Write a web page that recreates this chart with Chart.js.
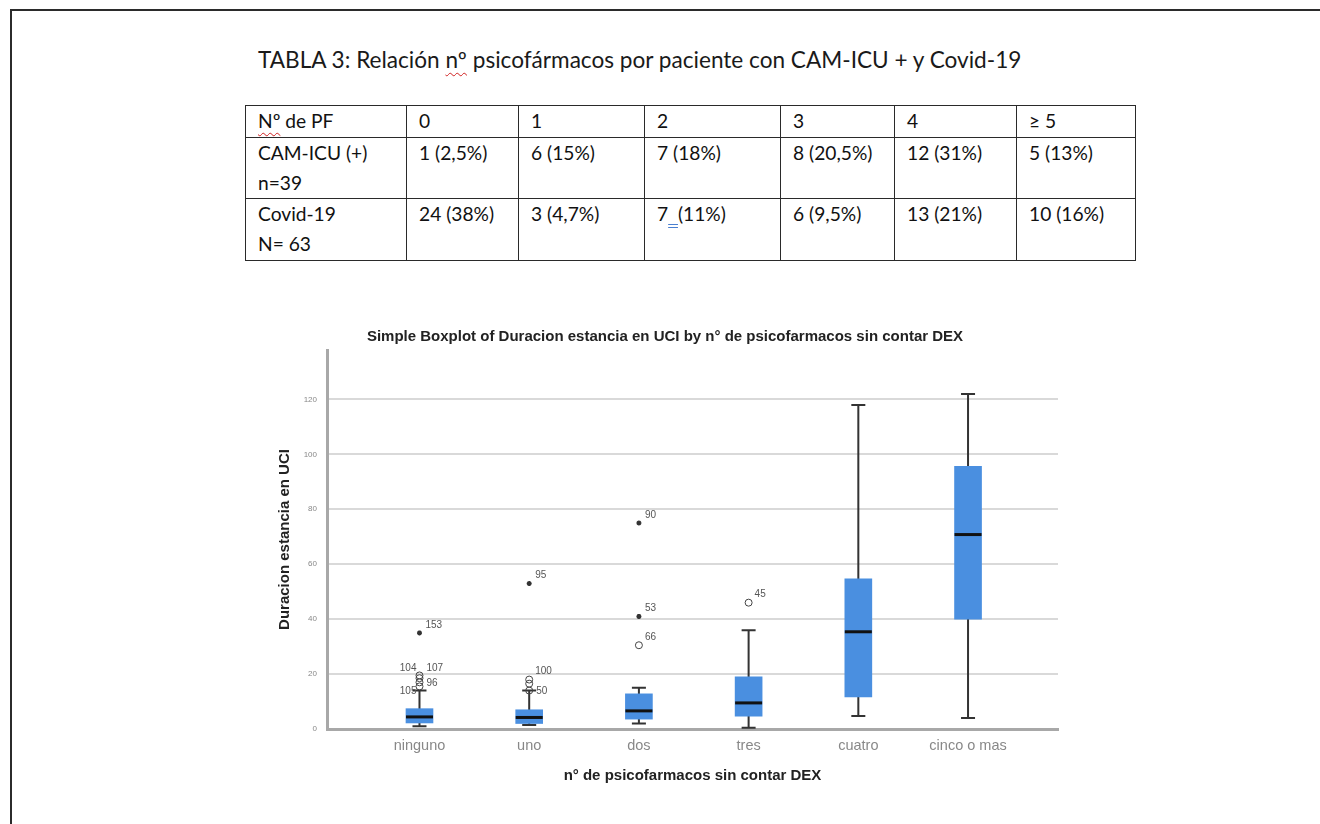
<!DOCTYPE html>
<html>
<head>
<meta charset="utf-8">
<script src="https://cdn.jsdelivr.net/npm/chart.js@4.4.0/dist/chart.umd.min.js"></script>
<style>
  html, body { margin: 0; padding: 0; background: #fff; width: 1320px; height: 824px; overflow: hidden; }
  #frame { position: absolute; left: 10px; top: 9px; width: 1330px; height: 840px;
           border-left: 2px solid #2b2b2b; border-top: 2px solid #2b2b2b; }
  #caption { position: absolute; left: 258px; top: 46px; font-family: Lato, sans-serif; font-size: 22.6px;
             color: #1a1a1a; white-space: nowrap; }
  .spell { text-decoration: underline wavy #d02020; text-decoration-thickness: 1px; text-underline-offset: 4px; }
  .mark { text-decoration: underline double #4a7fd0; text-underline-offset: 3px; }
  #tbl { position: absolute; left: 245px; top: 105px; border-collapse: collapse; table-layout: fixed;
         width: 890px; font-family: Lato, sans-serif; font-size: 19.2px; color: #111; }
  #tbl td { border: 1.5px solid #2a2a2a; vertical-align: top; padding: 0 0 0 12px; line-height: 30px;
            white-space: nowrap; overflow: hidden; }
  #chartBox { position: absolute; left: 255px; top: 320px; }
</style>
</head>
<body>
<div id="frame"></div>
<div id="caption">TABLA 3: Relación <span class="spell">nº</span> psicofármacos por paciente con CAM-ICU + y Covid-19</div>
<table id="tbl"><colgroup id="cols"></colgroup><tbody id="tbody"></tbody></table>
<div id="chartBox"><canvas id="chart" width="820" height="480"></canvas></div>

<script>
// ---- table contents ----
const tableHeader = ['Nº de PF', '0', '1', '2', '3', '4', '≥ 5'];
const rowLabels = [['CAM-ICU (+)', 'n=39'], ['Covid-19', 'N= 63']];
const camIcuCounts = ['1 (2,5%)', '6 (15%)', '7 (18%)', '8 (20,5%)', '12 (31%)', '5 (13%)'];
const covidCounts = ['24 (38%)', '3 (4,7%)', '7  (11%)', '6 (9,5%)', '13 (21%)', '10 (16%)'];
const colWidths = [161, 112, 126, 136, 114, 122, 119];
const rowHeights = [32, 61, 62];

// ---- boxplot values: Duracion estancia en UCI ----
const categories = ['ninguno', 'uno', 'dos', 'tres', 'cuatro', 'cinco o mas'];
const whiskerLow = [1, 1.5, 2, 0.5, 4.7, 4];
const q1 = [2.2, 2, 3.6, 4.7, 11.7, 40];
const median = [4.4, 4.2, 6.6, 9.5, 35.4, 70.8];
const q3 = [7.4, 7, 12.8, 19, 54.7, 95.6];
const whiskerHigh = [14, 14, 15, 36, 118, 122];

// outliers (circles) and extremes (stars): group index, value, case number
const outlierGroup = [0, 0, 0, 0, 1, 1, 1, 2, 3];
const outlierValue = [19.5, 18.5, 17, 15.5, 18, 16.5, 14, 30.5, 46];
const outlierCase = ['104', '107', '96', '105', '100', '', '50', '66', '45'];
const extremeGroup = [0, 1, 2, 2];
const extremeValue = [35, 53, 41, 75];
const extremeCase = ['153', '95', '53', '90'];

const yTicks = [0, 20, 40, 60, 80, 100, 120];

// ---- build the table ----
const cols = document.getElementById('cols');
colWidths.forEach(w => { const c = document.createElement('col'); c.style.width = w + 'px'; cols.appendChild(c); });
const tbody = document.getElementById('tbody');
function addRow(cells, h) {
  const tr = document.createElement('tr');
  tr.style.height = h + 'px';
  cells.forEach(html => { const td = document.createElement('td'); td.innerHTML = html; tr.appendChild(td); });
  tbody.appendChild(tr);
}
addRow(tableHeader.map((t, i) => i === 0 ? t.replace('Nº', '<span class="spell">Nº</span>') : t), rowHeights[0]);
addRow([rowLabels[0].join('<br>')].concat(camIcuCounts), rowHeights[1]);
addRow([rowLabels[1].join('<br>')].concat(covidCounts.map((t, i) =>
  i === 2 ? t.replace(/^7\s+/, '7<span class="mark">&nbsp;&nbsp;</span>') : t)), rowHeights[2]);

// label placement for the crowded case numbers (offset from the marker, in px)
const labelPlacement = {
  '104': { dx: -3, dy: -7, align: 'right' },
  '105': { dx: -3, dy: 5, align: 'right' },
  '107': { dx: 7, dy: -10, align: 'left' },
  '96':  { dx: 7, dy: 1, align: 'left' },
  '50':  { dx: 7, dy: 1, align: 'left' }
};

// ---- whiskers, medians and case labels drawn through the chart scales ----
const boxDecor = {
  id: 'boxDecor',
  beforeDatasetsDraw(chart) {
    const { ctx, scales: { x, y } } = chart;
    ctx.save();
    ctx.strokeStyle = '#333';
    ctx.lineWidth = 2;
    categories.forEach((c, i) => {
      const cx = x.getPixelForValue(i);
      const lo = y.getPixelForValue(whiskerLow[i]);
      const hi = y.getPixelForValue(whiskerHigh[i]);
      ctx.beginPath();
      ctx.moveTo(cx, lo); ctx.lineTo(cx, hi);
      ctx.moveTo(cx - 7, lo); ctx.lineTo(cx + 7, lo);
      ctx.moveTo(cx - 7, hi); ctx.lineTo(cx + 7, hi);
      ctx.stroke();
    });
    ctx.restore();
  },
  afterDatasetsDraw(chart) {
    const { ctx, scales: { x, y } } = chart;
    ctx.save();
    ctx.strokeStyle = '#111';
    ctx.lineWidth = 3;
    categories.forEach((c, i) => {
      const cx = x.getPixelForValue(i);
      const my = y.getPixelForValue(median[i]);
      ctx.beginPath();
      ctx.moveTo(cx - 13.5, my); ctx.lineTo(cx + 13.5, my);
      ctx.stroke();
    });
    ctx.fillStyle = '#555';
    ctx.font = '10px "Liberation Sans", Arial, sans-serif';
    ctx.textBaseline = 'middle';
    const put = (g, v, label) => {
      if (!label) return;
      const px = x.getPixelForValue(g);
      const py = y.getPixelForValue(v);
      const p = labelPlacement[label] || { dx: 6, dy: -8, align: 'left' };
      ctx.textAlign = p.align;
      ctx.fillText(label, px + p.dx, py + p.dy);
    };
    outlierValue.forEach((v, i) => put(outlierGroup[i], v, outlierCase[i]));
    extremeValue.forEach((v, i) => put(extremeGroup[i], v, extremeCase[i]));
    ctx.restore();
  }
};

Chart.defaults.font.family = '"Liberation Sans", Arial, sans-serif';

new Chart(document.getElementById('chart'), {
  type: 'bar',
  data: {
    datasets: [
      {
        type: 'bar',
        data: categories.map((c, i) => ({ x: i, y: [q1[i], q3[i]] })),
        backgroundColor: '#4a8fe0',
        borderWidth: 0,
        barThickness: 27,
        order: 2
      },
      {
        type: 'scatter',
        data: outlierValue.map((v, i) => ({ x: outlierGroup[i], y: v })),
        pointStyle: 'circle',
        radius: 3.5,
        borderColor: '#444',
        borderWidth: 1,
        backgroundColor: 'rgba(255,255,255,0)',
        order: 1
      },
      {
        type: 'scatter',
        data: extremeValue.map((v, i) => ({ x: extremeGroup[i], y: v })),
        pointStyle: 'star',
        radius: 2.5,
        borderColor: '#333',
        borderWidth: 1.5,
        order: 1
      }
    ]
  },
  options: {
    responsive: false,
    animation: false,
    devicePixelRatio: 1,
    layout: { padding: { left: 17, right: 17, top: 0, bottom: 0 } },
    plugins: {
      legend: { display: false },
      tooltip: { enabled: false },
      title: {
        display: true,
        text: 'Simple Boxplot of Duracion estancia en UCI by n° de psicofarmacos sin contar DEX',
        font: { size: 15, weight: 'bold' },
        color: '#222',
        padding: { top: 7.5, bottom: 4.5 }
      }
    },
    scales: {
      x: {
        type: 'linear',
        min: -0.843,
        max: 5.82,
        offset: false,
        grid: { display: false, drawTicks: false },
        border: { display: true, color: '#a8a8a8', width: 3 },
        afterBuildTicks: s => { s.ticks = categories.map((c, i) => ({ value: i })); },
        ticks: {
          callback: v => categories[v],
          font: { size: 14.5 },
          color: '#888',
          padding: 8,
          maxRotation: 0,
          autoSkip: false
        },
        title: {
          display: true,
          text: 'n° de psicofarmacos sin contar DEX',
          font: { size: 15, weight: 'bold' },
          color: '#222',
          padding: { top: 0, bottom: 15 }
        },
        afterFit: s => { s.height = 71; }
      },
      y: {
        min: 0,
        max: 138,
        afterBuildTicks: s => { s.ticks = yTicks.map(v => ({ value: v })); },
        grid: {
          color: c => (c.tick && c.tick.value === 0) ? 'rgba(0,0,0,0)' : '#d9d9d9',
          lineWidth: 2,
          drawTicks: false
        },
        border: { display: true, color: '#a8a8a8', width: 3 },
        ticks: { font: { size: 8 }, color: '#888', padding: 10 },
        title: {
          display: true,
          text: 'Duracion estancia en UCI',
          font: { size: 15, weight: 'bold' },
          color: '#222',
          padding: { top: 4, bottom: 0 }
        },
        afterFit: s => { s.width = 55; }
      }
    }
  },
  plugins: [boxDecor]
});
</script>
</body>
</html>
